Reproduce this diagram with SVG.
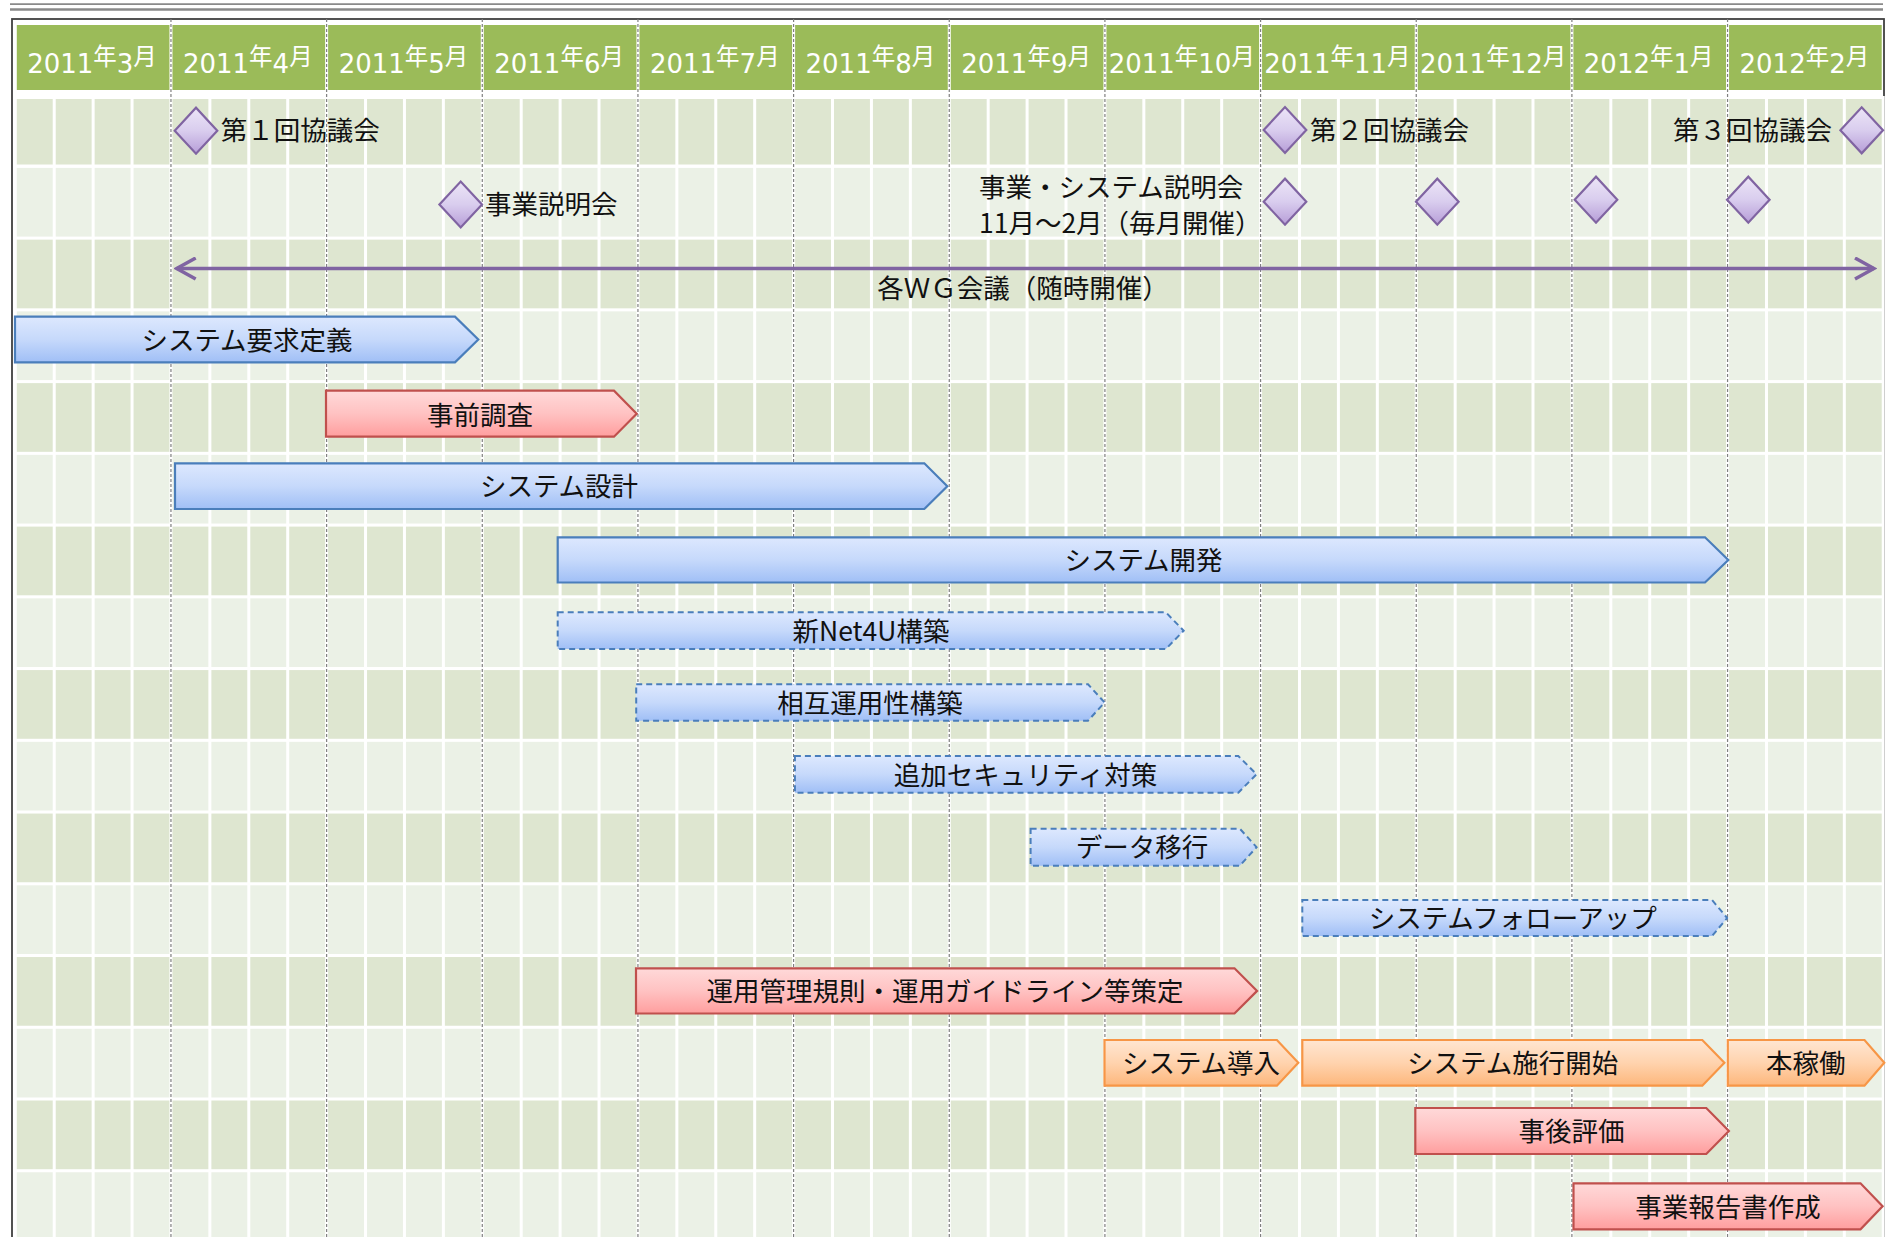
<svg xmlns="http://www.w3.org/2000/svg" xmlns:xlink="http://www.w3.org/1999/xlink" width="1886" height="1237" viewBox="0 0 1886 1237">
<style>
.hdr{fill:#9bbb59}
.hdrt{font-family:"DejaVu Sans","Noto Sans CJK JP",sans-serif;font-size:26px;fill:#fff;text-anchor:middle}
.k{font-family:"Noto Sans CJK JP",sans-serif;font-size:23.5px}
.rd{fill:#dee6d0}
.rl{fill:#ebf1e6}
.lbl{font-family:"Noto Sans CJK JP",sans-serif;font-size:26.5px;fill:#111}
.mid{text-anchor:middle}
.blue{fill:url(#gBlue);stroke:#4a7ebb;stroke-width:2.2;stroke-linejoin:miter}
.red{fill:url(#gRed);stroke:#c0504d;stroke-width:2.2}
.orange{fill:url(#gOrange);stroke:#f79646;stroke-width:2.2}
.dash{fill:url(#gBlue);stroke:#4a7ebb;stroke-width:2;stroke-dasharray:6 4}
.dia{fill:url(#gPurple);stroke:#8064a2;stroke-width:2.2}
</style>
<defs>
<linearGradient id="gBlue" x1="0" y1="0" x2="0" y2="1">
<stop offset="0" stop-color="#dde8fe"/><stop offset="0.5" stop-color="#c6d9fb"/><stop offset="1" stop-color="#a0bff6"/>
</linearGradient>
<linearGradient id="gRed" x1="0" y1="0" x2="0" y2="1">
<stop offset="0" stop-color="#ffd9d9"/><stop offset="0.5" stop-color="#ffc2c2"/><stop offset="1" stop-color="#ff9e9e"/>
</linearGradient>
<linearGradient id="gOrange" x1="0" y1="0" x2="0" y2="1">
<stop offset="0" stop-color="#ffe6d2"/><stop offset="0.5" stop-color="#ffd3ae"/><stop offset="1" stop-color="#fdb77c"/>
</linearGradient>
<linearGradient id="gPurple" x1="0" y1="0" x2="0" y2="1">
<stop offset="0" stop-color="#ece5f7"/><stop offset="0.5" stop-color="#d9cdee"/><stop offset="1" stop-color="#b79ed8"/>
</linearGradient>
<path id="dm" d="M-21.3,0 L0,-23 L21.3,0 L0,23 Z"/>
<marker id="openArrow" viewBox="0 0 24 24" refX="21" refY="12" markerWidth="24" markerHeight="24" markerUnits="userSpaceOnUse" orient="auto-start-reverse">
<path d="M2,1.5 L21,12 L2,22.5" fill="none" stroke="#8064a2" stroke-width="3.5" stroke-linejoin="miter"/>
</marker>
</defs>
<rect x="0" y="0" width="1886" height="1237" fill="#fff"/>
<g id="topRule">
<line x1="10" y1="4.2" x2="1883" y2="4.2" stroke="#8a8a8a" stroke-width="1.7"/>
<line x1="10" y1="9.5" x2="1883" y2="9.5" stroke="#8a8a8a" stroke-width="2.3"/>
</g>
<rect id="frame" x="12" y="19" width="1872" height="1240" fill="none" stroke="#404040" stroke-width="1.8"/>
<g id="header">
<g id="m0"><rect class="hdr" x="16.8" y="25" width="152.66" height="65"/><text class="hdrt" x="92" y="73">2011<tspan class="k" dy="-8">年</tspan><tspan dy="8">3</tspan><tspan class="k" dy="-8">月</tspan></text></g>
<g id="m1"><rect class="hdr" x="172.46" y="25" width="152.66" height="65"/><text class="hdrt" x="247.8" y="73">2011<tspan class="k" dy="-8">年</tspan><tspan dy="8">4</tspan><tspan class="k" dy="-8">月</tspan></text></g>
<g id="m2"><rect class="hdr" x="328.12" y="25" width="152.66" height="65"/><text class="hdrt" x="403.5" y="73">2011<tspan class="k" dy="-8">年</tspan><tspan dy="8">5</tspan><tspan class="k" dy="-8">月</tspan></text></g>
<g id="m3"><rect class="hdr" x="483.78" y="25" width="152.66" height="65"/><text class="hdrt" x="559.1" y="73">2011<tspan class="k" dy="-8">年</tspan><tspan dy="8">6</tspan><tspan class="k" dy="-8">月</tspan></text></g>
<g id="m4"><rect class="hdr" x="639.44" y="25" width="152.66" height="65"/><text class="hdrt" x="714.8" y="73">2011<tspan class="k" dy="-8">年</tspan><tspan dy="8">7</tspan><tspan class="k" dy="-8">月</tspan></text></g>
<g id="m5"><rect class="hdr" x="795.1" y="25" width="152.66" height="65"/><text class="hdrt" x="870.4" y="73">2011<tspan class="k" dy="-8">年</tspan><tspan dy="8">8</tspan><tspan class="k" dy="-8">月</tspan></text></g>
<g id="m6"><rect class="hdr" x="950.76" y="25" width="152.66" height="65"/><text class="hdrt" x="1026.1" y="73">2011<tspan class="k" dy="-8">年</tspan><tspan dy="8">9</tspan><tspan class="k" dy="-8">月</tspan></text></g>
<g id="m7"><rect class="hdr" x="1106.42" y="25" width="152.66" height="65"/><text class="hdrt" x="1181.8" y="73">2011<tspan class="k" dy="-8">年</tspan><tspan dy="8">10</tspan><tspan class="k" dy="-8">月</tspan></text></g>
<g id="m8"><rect class="hdr" x="1262.08" y="25" width="152.66" height="65"/><text class="hdrt" x="1337.4" y="73">2011<tspan class="k" dy="-8">年</tspan><tspan dy="8">11</tspan><tspan class="k" dy="-8">月</tspan></text></g>
<g id="m9"><rect class="hdr" x="1417.74" y="25" width="152.66" height="65"/><text class="hdrt" x="1493.1" y="73">2011<tspan class="k" dy="-8">年</tspan><tspan dy="8">12</tspan><tspan class="k" dy="-8">月</tspan></text></g>
<g id="m10"><rect class="hdr" x="1573.4" y="25" width="152.66" height="65"/><text class="hdrt" x="1648.7" y="73">2012<tspan class="k" dy="-8">年</tspan><tspan dy="8">1</tspan><tspan class="k" dy="-8">月</tspan></text></g>
<g id="m11"><rect class="hdr" x="1729.06" y="25" width="152.66" height="65"/><text class="hdrt" x="1804.4" y="73">2012<tspan class="k" dy="-8">年</tspan><tspan dy="8">2</tspan><tspan class="k" dy="-8">月</tspan></text></g>
</g>
<g id="grid">
<rect class="rd" x="15.3" y="99" width="1867.9" height="65.5"/>
<rect class="rl" x="15.3" y="167.9" width="1867.9" height="68.7"/>
<rect class="rd" x="15.3" y="239.64" width="1867.9" height="68.7"/>
<rect class="rl" x="15.3" y="311.38" width="1867.9" height="68.7"/>
<rect class="rd" x="15.3" y="383.12" width="1867.9" height="68.7"/>
<rect class="rl" x="15.3" y="454.86" width="1867.9" height="68.7"/>
<rect class="rd" x="15.3" y="526.6" width="1867.9" height="68.7"/>
<rect class="rl" x="15.3" y="598.34" width="1867.9" height="68.7"/>
<rect class="rd" x="15.3" y="670.08" width="1867.9" height="68.7"/>
<rect class="rl" x="15.3" y="741.82" width="1867.9" height="68.7"/>
<rect class="rd" x="15.3" y="813.56" width="1867.9" height="68.7"/>
<rect class="rl" x="15.3" y="885.3" width="1867.9" height="68.7"/>
<rect class="rd" x="15.3" y="957.04" width="1867.9" height="68.7"/>
<rect class="rl" x="15.3" y="1028.78" width="1867.9" height="68.7"/>
<rect class="rd" x="15.3" y="1100.52" width="1867.9" height="68.7"/>
<rect class="rl" x="15.3" y="1172.26" width="1867.9" height="68.7"/>
<path fill="none" stroke="#fff" stroke-width="3" d="M15.3,96V1237 M54.22,96V1237 M93.13,96V1237 M132.05,96V1237 M170.96,96V1237 M209.88,96V1237 M248.79,96V1237 M287.71,96V1237 M326.62,96V1237 M365.54,96V1237 M404.45,96V1237 M443.37,96V1237 M482.28,96V1237 M521.2,96V1237 M560.11,96V1237 M599.03,96V1237 M637.94,96V1237 M676.86,96V1237 M715.77,96V1237 M754.69,96V1237 M793.6,96V1237 M832.52,96V1237 M871.43,96V1237 M910.35,96V1237 M949.26,96V1237 M988.18,96V1237 M1027.09,96V1237 M1066.01,96V1237 M1104.92,96V1237 M1143.84,96V1237 M1182.75,96V1237 M1221.67,96V1237 M1260.58,96V1237 M1299.5,96V1237 M1338.41,96V1237 M1377.33,96V1237 M1416.24,96V1237 M1455.16,96V1237 M1494.07,96V1237 M1532.99,96V1237 M1571.9,96V1237 M1610.82,96V1237 M1649.73,96V1237 M1688.65,96V1237 M1727.56,96V1237 M1766.48,96V1237 M1805.39,96V1237 M1844.31,96V1237 M1883.22,96V1237"/>
<path fill="none" stroke="#808080" stroke-width="1.2" stroke-dasharray="3 2" d="M170.96,19V1237 M326.62,19V1237 M482.28,19V1237 M637.94,19V1237 M793.6,19V1237 M949.26,19V1237 M1104.92,19V1237 M1260.58,19V1237 M1416.24,19V1237 M1571.9,19V1237 M1727.56,19V1237"/>
</g>
<g id="connectors">
<line x1="176.7" y1="268.5" x2="1874" y2="268.5" stroke="#8064a2" stroke-width="3.5" marker-start="url(#openArrow)" marker-end="url(#openArrow)"/>
<text class="lbl mid" x="1023" y="298">各ＷＧ会議（随時開催）</text>
</g>
<g id="milestone-kyogikai1"><use href="#dm" class="dia" x="196" y="130.7"/><text class="lbl" x="220.7" y="139.5">第１回協議会</text></g>
<g id="milestone-kyogikai2"><use href="#dm" class="dia" x="1285" y="130"/><text class="lbl" x="1310" y="139.5">第２回協議会</text></g>
<g id="milestone-kyogikai3"><use href="#dm" class="dia" x="1861.7" y="130.3"/><text class="lbl" x="1673" y="139.5">第３回協議会</text></g>
<g id="milestone-setsumeikai"><use href="#dm" class="dia" x="460.7" y="204.5"/><text class="lbl" x="485" y="214">事業説明会</text></g>
<g id="milestone-monthly">
<use href="#dm" class="dia" x="1285" y="201.7"/>
<use href="#dm" class="dia" x="1437.3" y="201.7"/>
<use href="#dm" class="dia" x="1596" y="199.7"/>
<use href="#dm" class="dia" x="1748.3" y="199.7"/>
<text class="lbl" x="979" y="196.5">事業・システム説明会</text>
<text class="lbl" x="979" y="233">11月～2月（毎月開催）</text>
</g>
<g id="bar-youkyu"><path class="blue" d="M15,316.7 H455 L478.3,339.5 L455,362.3 H15 Z"/><text class="lbl mid" x="247" y="349.5">システム要求定義</text></g>
<g id="bar-jizen"><path class="red" d="M326,390.7 H614 L636.7,413.7 L614,436.7 H326 Z"/><text class="lbl mid" x="480" y="424.5">事前調査</text></g>
<g id="bar-sekkei"><path class="blue" d="M175,463.3 H924.3 L947.3,486.2 L924.3,509 H175 Z"/><text class="lbl mid" x="559" y="496">システム設計</text></g>
<g id="bar-kaihatsu"><path class="blue" d="M557.7,537.3 H1705 L1728.3,560 L1705,582.5 H557.7 Z"/><text class="lbl mid" x="1143.5" y="570">システム開発</text></g>
<g id="bar-net4u"><path class="dash" d="M557.7,612.3 H1165.8 L1183.7,630.7 L1165.8,649 H557.7 Z"/><text class="lbl mid" x="871" y="640.5">新Net4U構築</text></g>
<g id="bar-sougo"><path class="dash" d="M636.2,684.3 H1088 L1104.6,702.5 L1088,720.7 H636.2 Z"/><text class="lbl mid" x="870" y="712.5">相互運用性構築</text></g>
<g id="bar-security"><path class="dash" d="M794.9,756 H1238.3 L1256.6,774.3 L1238.3,792.7 H794.9 Z"/><text class="lbl mid" x="1025.5" y="784.5">追加セキュリティ対策</text></g>
<g id="bar-data"><path class="dash" d="M1030.6,828.7 H1239.8 L1256.6,847.2 L1239.8,865.7 H1030.6 Z"/><text class="lbl mid" x="1142" y="857">データ移行</text></g>
<g id="bar-follow"><path class="dash" d="M1302.3,900 H1712 L1727.2,918 L1712,936 H1302.3 Z"/><text class="lbl mid" x="1512.7" y="928">システムフォローアップ</text></g>
<g id="bar-unyou"><path class="red" d="M636,968.3 H1234.5 L1257.1,990.9 L1234.5,1013.5 H636 Z"/><text class="lbl mid" x="945" y="1000.5">運用管理規則・運用ガイドライン等策定</text></g>
<g id="bar-dounyu"><path class="orange" d="M1104.5,1040 H1276.9 L1298.3,1062.8 L1276.9,1085.7 H1104.5 Z"/><text class="lbl mid" x="1201" y="1072.5">システム導入</text></g>
<g id="bar-shikou"><path class="orange" d="M1302.3,1040 H1702.3 L1724.4,1062.8 L1702.3,1085.7 H1302.3 Z"/><text class="lbl mid" x="1512.7" y="1072.5">システム施行開始</text></g>
<g id="bar-honkadou"><path class="orange" d="M1727.8,1040 H1864.5 L1884.3,1062.8 L1864.5,1085.7 H1727.8 Z"/><text class="lbl mid" x="1805.7" y="1072.5">本稼働</text></g>
<g id="bar-jigo"><path class="red" d="M1415.3,1108 H1706.3 L1728.9,1131 L1706.3,1154 H1415.3 Z"/><text class="lbl mid" x="1571.6" y="1141">事後評価</text></g>
<g id="bar-houkoku"><path class="red" d="M1573.5,1183.3 H1860.5 L1882.6,1206.3 L1860.5,1229.3 H1573.5 Z"/><text class="lbl mid" x="1728" y="1216.5">事業報告書作成</text></g>
</svg>
